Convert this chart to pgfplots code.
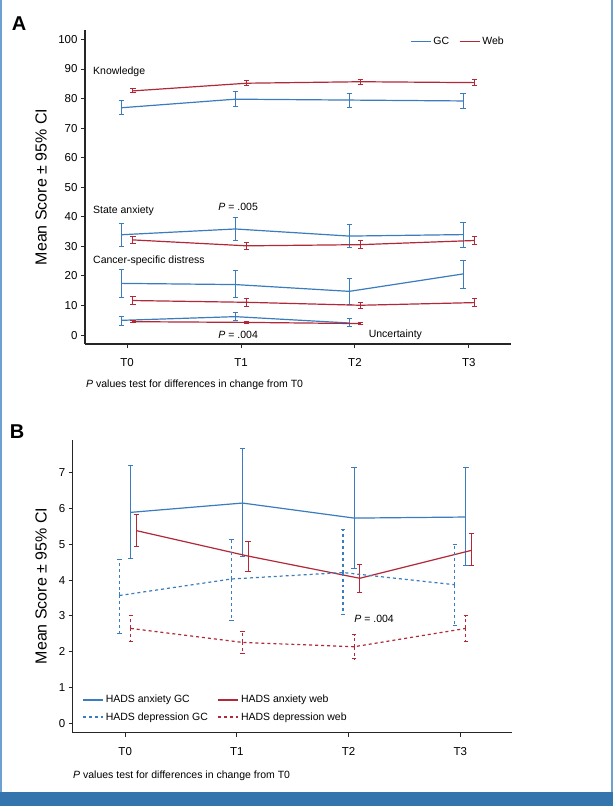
\documentclass[border=0pt]{standalone}
\usepackage{fontspec}
\setmainfont{Liberation Sans}
\usepackage{pgfplots}
\pgfplotsset{compat=1.18}
\usepackage{pgfplotstable}
\definecolor{gcblue}{RGB}{58,124,190}
\definecolor{webred}{RGB}{178,40,56}
\definecolor{framebl}{RGB}{53,117,174}
\definecolor{framelt}{RGB}{110,160,210}

% Panel A data: x y plus minus
\pgfplotstableread{
x y ep em
-0.05 76.9 2.3 2.3
0.95 79.8 2.5 2.6
1.95 79.5 2.2 2.5
2.95 79.2 2.5 2.6
}\kgc
\pgfplotstableread{
x y ep em
0.05 82.6 0.7 0.7
1.05 85.2 0.9 0.9
2.05 85.7 0.9 0.9
3.05 85.4 1.0 1.0
}\kweb
\pgfplotstableread{
x y ep em
-0.05 33.95 3.75 3.95
0.95 35.9 3.8 4.0
1.95 33.5 3.8 3.7
2.95 34.0 4.1 4.2
}\sgc
\pgfplotstableread{
x y ep em
0.05 32.2 1.3 1.3
1.05 30.2 1.25 1.25
2.05 30.6 1.35 1.35
3.05 32.0 1.4 1.4
}\sweb
\pgfplotstableread{
x y ep em
-0.05 17.5 4.6 4.7
0.95 17.1 4.7 4.5
1.95 14.8 4.4 4.5
2.95 20.7 4.6 4.9
}\dgc
\pgfplotstableread{
x y ep em
0.05 11.7 1.3 1.3
1.05 11.1 1.3 1.3
2.05 10.1 1.1 1.1
3.05 11.0 1.35 1.35
}\dweb
\pgfplotstableread{
x y ep em
-0.05 5.0 1.4 1.7
0.95 6.25 1.55 1.25
1.95 4.1 1.5 1.2
}\ugc
\pgfplotstableread{
x y ep em
0.05 4.55 0.4 0.4
1.05 4.3 0.35 0.35
2.05 3.9 0.35 0.35
}\uweb
% Panel B data
\pgfplotstableread{
x y ep em
0.05 5.89 1.30 1.29
1.05 6.15 1.51 1.50
2.05 5.73 1.41 1.41
3.05 5.76 1.38 1.36
}\agc
\pgfplotstableread{
x y ep em
0.10 5.38 0.46 0.45
1.10 4.67 0.40 0.43
2.10 4.05 0.39 0.41
3.10 4.83 0.46 0.43
}\aweb
\pgfplotstableread{
x y ep em
-0.05 3.57 1.01 1.05
0.95 4.03 1.11 1.16
1.95 4.21 1.19 1.16
2.95 3.87 1.12 1.13
}\hgc
\pgfplotstableread{
x y ep em
0.05 2.65 0.37 0.36
1.05 2.26 0.31 0.32
2.05 2.14 0.34 0.34
3.05 2.65 0.36 0.36
}\hweb

\pgfplotsset{
  common/.style={
    scale only axis, clip=false,
    axis x line*=bottom, axis y line*=left,
    tick align=outside, major tick length=4bp,
    axis line style={line width=1.3bp, black!85},
    tick style={line width=1bp, black!85},
    tick label style={font=\fontsize{11.5bp}{13bp}\selectfont},
    /pgf/number format/assume math mode=true,
    xtick={0,1,2,3}, xticklabels={T0,T1,T2,T3},
    xticklabel style={yshift=-7bp},
    legend cell align=left,
    legend image code/.code={\draw[#1] (0bp,0bp) -- (20bp,0bp);},
  },
  eb/.style={no marks, line width=1.2bp, forget plot,
    error bars/.cd, y dir=both, y explicit,
    error mark options={rotate=90, mark size=2.7bp, line width=1bp},
    error bar style={line width=1.1bp}},
  ebd/.style={no marks, line width=1.2bp, forget plot, dashed,
    error bars/.cd, y dir=both, y explicit,
    error mark options={rotate=90, mark size=2.2bp, line width=1bp, solid},
    error bar style={line width=1.1bp, dashed}},
}

\begin{document}
\begin{tikzpicture}
\useasboundingbox (0,0) rectangle (613bp,806bp);
\fill[white] (0,0) rectangle (613bp,806bp);
\fill[framebl] (0,0) rectangle (613bp,14bp);
\draw[framelt, line width=2bp] (1bp,14bp) -- (1bp,806bp);
\draw[framelt, line width=2bp] (612bp,14bp) -- (612bp,806bp);

% ---------- Panel A ----------
\begin{axis}[common,
  at={(85bp,462bp)}, anchor=south west,
  width=426bp, height=314bp,
  xmin=-0.37, xmax=3.37, ymin=-3, ymax=103.2,
  ytick={0,10,...,100},
  legend style={draw=none, fill=none, at={(0.988,0.963)}, anchor=east,
    font=\fontsize{10.5bp}{12bp}\selectfont, legend columns=2,
    inner sep=0pt,
    /tikz/every even column/.append style={column sep=8bp}},
  legend entries={GC,Web},
]
\addlegendimage{gcblue, line width=1.2bp}
\addlegendimage{webred, line width=1.2bp}
\addplot[gcblue, eb] table[x=x,y=y,y error plus=ep,y error minus=em] {\kgc};
\addplot[webred, eb] table[x=x,y=y,y error plus=ep,y error minus=em] {\kweb};
\addplot[gcblue, eb] table[x=x,y=y,y error plus=ep,y error minus=em] {\sgc};
\addplot[webred, eb] table[x=x,y=y,y error plus=ep,y error minus=em] {\sweb};
\addplot[gcblue, eb] table[x=x,y=y,y error plus=ep,y error minus=em] {\dgc};
\addplot[webred, eb] table[x=x,y=y,y error plus=ep,y error minus=em] {\dweb};
\addplot[gcblue, eb] table[x=x,y=y,y error plus=ep,y error minus=em] {\ugc};
\addplot[webred, eb] table[x=x,y=y,y error plus=ep,y error minus=em] {\uweb};
\begin{scope}[font=\fontsize{10.5bp}{12bp}\selectfont, inner sep=0pt]
\node[anchor=west] at (axis cs:-0.30,89.1) {Knowledge};
\node[anchor=west] at (axis cs:-0.30,42.2) {State anxiety};
\node[anchor=west] at (axis cs:0.80,43.4) {\textit{P} = .005};
\node[anchor=west] at (axis cs:-0.30,25.3) {Cancer-specific distress};
\node[anchor=west] at (axis cs:0.80,0.2) {\textit{P} = .004};
\node[anchor=west] at (axis cs:2.12,0.2) {Uncertainty};
\end{scope}
\end{axis}
\node[anchor=west, inner sep=0pt, font=\fontsize{10.5bp}{12bp}\selectfont] at (86bp,421bp) {\textit{P} values test for differences in change from T0};
\node[font=\bfseries\fontsize{20bp}{22bp}\selectfont] at (19bp,782bp) {A};
\node[rotate=90, font=\fontsize{16bp}{18bp}\selectfont] at (41bp,619bp) {Mean Score ± 95\% CI};

% ---------- Panel B ----------
\begin{axis}[common,
  at={(72.7bp,73.3bp)}, anchor=south west,
  width=439bp, height=292.7bp,
  xmin=-0.47, xmax=3.46, ymin=-0.26, ymax=7.91,
  ytick={0,1,...,7},
  legend style={draw=none, fill=none, at={(0.022,0.135)}, anchor=north west,
    font=\fontsize{10.5bp}{12bp}\selectfont, legend columns=2,
    inner sep=0pt, row sep=4bp,
    /tikz/every even column/.append style={column sep=8bp}},
  legend entries={HADS anxiety GC, HADS anxiety web, HADS depression GC, HADS depression web},
]
\addlegendimage{gcblue, line width=1.2bp}
\addlegendimage{webred, line width=1.2bp}
\addlegendimage{gcblue, line width=1.2bp, dashed}
\addlegendimage{webred, line width=1.2bp, dashed}
\addplot[gcblue, eb] table[x=x,y=y,y error plus=ep,y error minus=em] {\agc};
\addplot[webred, eb] table[x=x,y=y,y error plus=ep,y error minus=em] {\aweb};
\addplot[gcblue, ebd] table[x=x,y=y,y error plus=ep,y error minus=em] {\hgc};
\addplot[webred, ebd] table[x=x,y=y,y error plus=ep,y error minus=em] {\hweb};
\node[anchor=west, inner sep=0pt, font=\fontsize{10.5bp}{12bp}\selectfont] at (axis cs:2.05,2.92) {\textit{P} = .004};
\end{axis}
\node[anchor=west, inner sep=0pt, font=\fontsize{10.5bp}{12bp}\selectfont] at (73bp,30.3bp) {\textit{P} values test for differences in change from T0};
\node[font=\bfseries\fontsize{20bp}{22bp}\selectfont] at (17bp,374.5bp) {B};
\node[rotate=90, font=\fontsize{16bp}{18bp}\selectfont] at (41bp,220bp) {Mean Score ± 95\% CI};
\end{tikzpicture}
\end{document}
